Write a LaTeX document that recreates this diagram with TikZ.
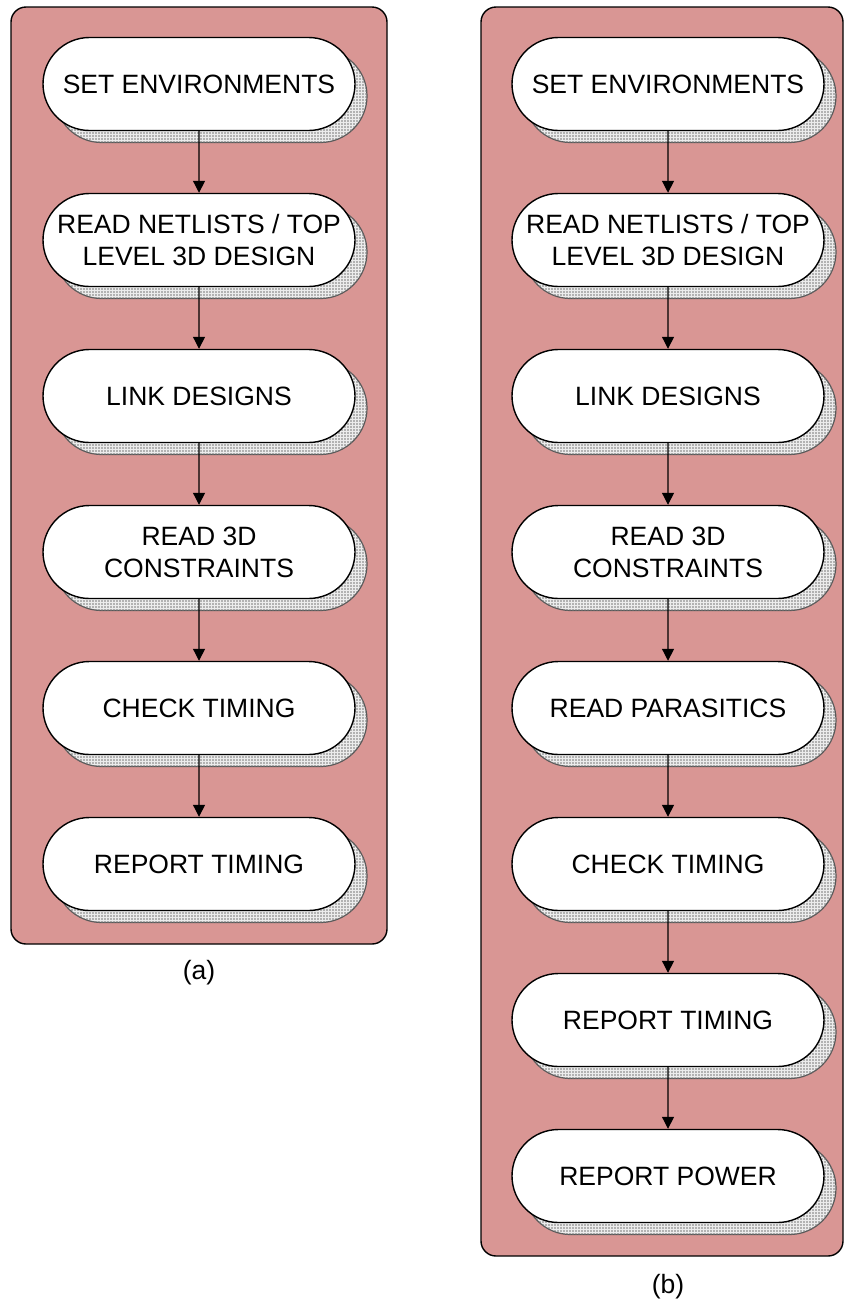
\documentclass[tikz,border=0pt]{standalone}
\usepackage{fontspec}
\setmainfont{Liberation Sans}
\usetikzlibrary{arrows.meta,shapes.misc,shadows,patterns.meta}
\definecolor{panelRed}{RGB}{217,150,148}
\definecolor{shadowGray}{RGB}{236,236,236}
\definecolor{dotGray}{RGB}{120,120,120}

\begin{document}
\begin{tikzpicture}[x=0.5pt, y=-0.5pt,
    panel/.style={draw=black, line width=0.7pt, fill=panelRed, rounded corners=7.5pt},
    stage/.style={rounded rectangle, draw=black, line width=0.7pt, fill=white,
      minimum width=156pt, minimum height=46.5pt, inner sep=0pt, align=center,
      font=\fontsize{13.25}{16}\selectfont,
      general shadow={shadow xshift=6pt, shadow yshift=-6pt, fill=shadowGray,
        draw=black!65, line width=0.6pt},
      general shadow={shadow xshift=6pt, shadow yshift=-6pt,
        pattern={Dots[distance=1.5pt, radius=0.4pt]}, pattern color=dotGray}},
    flow/.style={-{Triangle[length=6pt, width=6pt]}, line width=0.6pt},
    caption/.style={font=\fontsize{13.25}{16}\selectfont}]
  \useasboundingbox (0,0) rectangle (844,1303);

  % Panel (a)
  \draw[panel] (11,7) rectangle (387,944);
  \node[stage] (a1) at (199,84) {SET ENVIRONMENTS};
  \node[stage] (a2) at (199,240) {READ NETLISTS / TOP\\LEVEL 3D DESIGN};
  \node[stage] (a3) at (199,396) {LINK DESIGNS};
  \node[stage] (a4) at (199,552) {READ 3D\\CONSTRAINTS};
  \node[stage] (a5) at (199,708) {CHECK TIMING};
  \node[stage] (a6) at (199,864) {REPORT TIMING};
  \draw[flow] (a1) -- (a2);
  \draw[flow] (a2) -- (a3);
  \draw[flow] (a3) -- (a4);
  \draw[flow] (a4) -- (a5);
  \draw[flow] (a5) -- (a6);
  \node[caption] (capA) at (199,973) {(a)};

  % Panel (b)
  \draw[panel] (481,7) rectangle (843,1256);
  \node[stage] (b1) at (668,84) {SET ENVIRONMENTS};
  \node[stage] (b2) at (668,240) {READ NETLISTS / TOP\\LEVEL 3D DESIGN};
  \node[stage] (b3) at (668,396) {LINK DESIGNS};
  \node[stage] (b4) at (668,552) {READ 3D\\CONSTRAINTS};
  \node[stage] (b5) at (668,708) {READ PARASITICS};
  \node[stage] (b6) at (668,864) {CHECK TIMING};
  \node[stage] (b7) at (668,1020) {REPORT TIMING};
  \node[stage] (b8) at (668,1176) {REPORT POWER};
  \draw[flow] (b1) -- (b2);
  \draw[flow] (b2) -- (b3);
  \draw[flow] (b3) -- (b4);
  \draw[flow] (b4) -- (b5);
  \draw[flow] (b5) -- (b6);
  \draw[flow] (b6) -- (b7);
  \draw[flow] (b7) -- (b8);
  \node[caption] (capB) at (668,1287) {(b)};
\end{tikzpicture}
\end{document}
